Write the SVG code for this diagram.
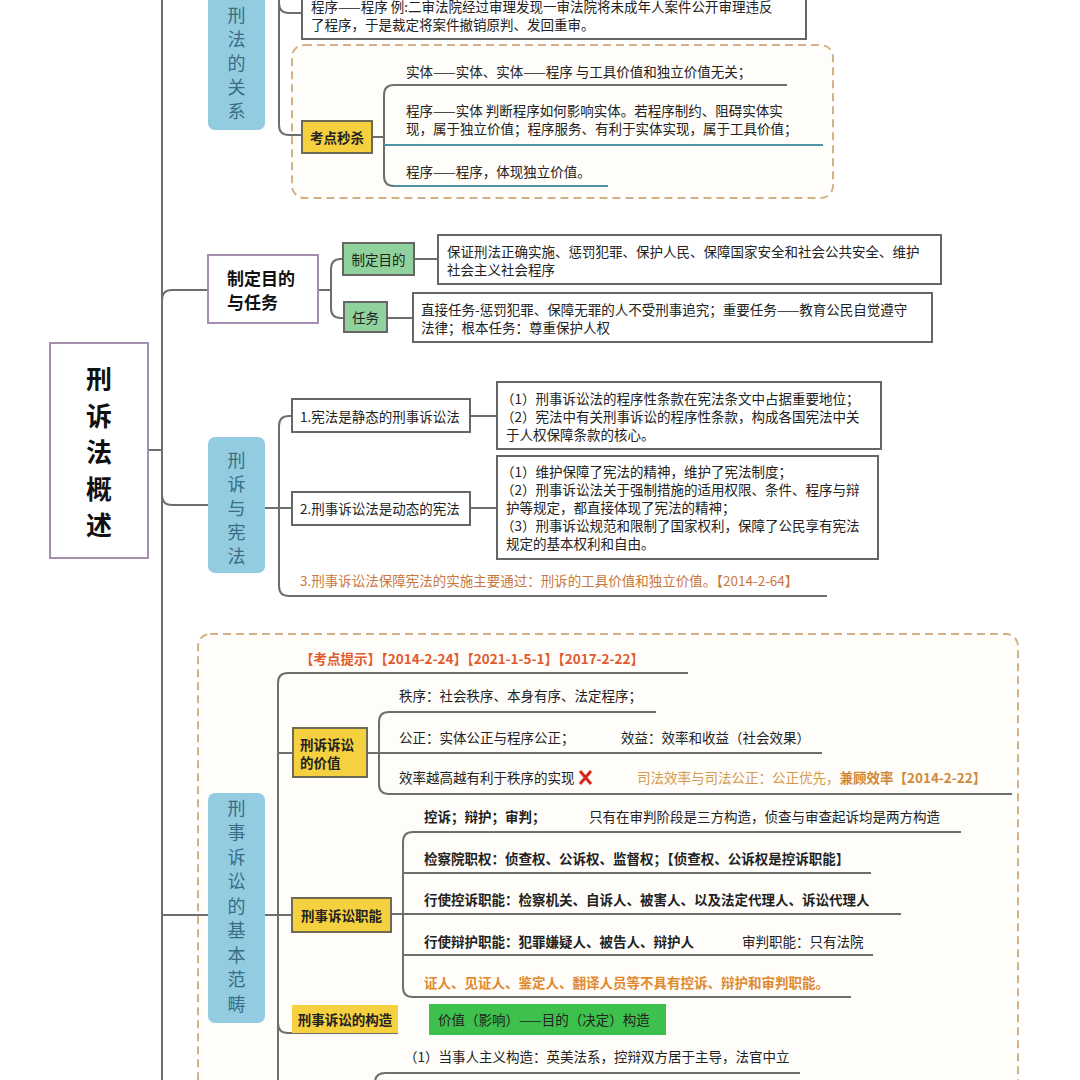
<svg xmlns="http://www.w3.org/2000/svg" width="1080" height="1080" viewBox="0 0 1080 1080">
<style>
.ln{fill:none;stroke:#6e6e6e;stroke-width:2}
.lnb{fill:none;stroke:#4e93a8;stroke-width:2}
.box{fill:#fff;stroke:#666;stroke-width:2}
.pbox{fill:#fff;stroke:#a48fae;stroke-width:2}
.blue{fill:#93cce1}
.yel{fill:#f6d13f;stroke:#6f6a55;stroke-width:2}
.grn{fill:#8fd29d;stroke:#666;stroke-width:2}
.dash{fill:#fffdf9;stroke:#d4b088;stroke-width:2;stroke-dasharray:8 5}
text{font-family:"Noto Sans CJK SC","Noto Sans",sans-serif;dominant-baseline:central}
.t{font-size:13.5px;fill:#222}
.b{font-weight:bold}
.bt{font-size:18px;fill:#3a6c84;text-anchor:middle}
.or{fill:#c9783f}
.rd{fill:#e05a30}
.tan{fill:#d49a4c}
.og{fill:#e0892e}
</style>

<g id="frames">
  <rect class="dash" x="292" y="45" width="541" height="153" rx="12"/>
  <rect class="dash" x="198" y="634" width="820" height="470" rx="12"/>
</g>

<g id="connectors">
  <line class="ln" x1="162" y1="0" x2="162" y2="1080"/>
  <line class="ln" x1="148" y1="450" x2="162" y2="450"/>
  <path class="ln" d="M279,-5 V3 Q279,13 289,13 H302"/>
  <path class="ln" d="M279,0 V125 Q279,135 289,135 H302"/>
  <line class="ln" x1="372" y1="137" x2="384" y2="137"/>
  <path class="ln" d="M787,85 H394 Q384,85 384,95 V176 Q384,186 394,186"/>
  <line class="lnb" x1="384" y1="145" x2="823" y2="145"/>
  <line class="lnb" x1="394" y1="186" x2="608" y2="186"/>
  <path class="ln" d="M162,300 Q162,290 172,290 H208"/>
  <path class="ln" d="M318,290 H331"/>
  <path class="ln" d="M343,259 H341 Q331,259 331,269 V308 Q331,318 341,318 H344"/>
  <line class="ln" x1="414" y1="259" x2="438" y2="259"/>
  <line class="ln" x1="387" y1="318" x2="413" y2="318"/>
  <path class="ln" d="M162,495 Q162,505 172,505 H208"/>
  <line class="ln" x1="265" y1="508" x2="292" y2="508"/>
  <path class="ln" d="M292,416 H289 Q279,416 279,426 V586 Q279,596 289,596 H827"/>
  <line class="ln" x1="470" y1="416" x2="497" y2="416"/>
  <line class="ln" x1="470" y1="508" x2="497" y2="508"/>
  <line class="ln" x1="162" y1="915" x2="208" y2="915"/>
  <line class="ln" x1="265" y1="915" x2="292" y2="915"/>
  <path class="ln" d="M688,673 H288 Q278,673 278,683 V1080"/>
  <line class="ln" x1="278" y1="753" x2="293" y2="753"/>
  <path class="ln" d="M278,1023 Q278,1033 288,1033 H398"/>
  <path class="ln" d="M656,712 H389 Q379,712 379,722 V784 Q379,794 389,794 H1012"/>
  <line class="ln" x1="367" y1="753" x2="822" y2="753"/>
  <path class="ln" d="M961,832 H413 Q403,832 403,842 V987 Q403,997 413,997 H851"/>
  <line class="ln" x1="403" y1="873" x2="871" y2="873"/>
  <line class="ln" x1="391" y1="914" x2="901" y2="914"/>
  <line class="ln" x1="403" y1="955" x2="873" y2="955"/>
  <path class="ln" d="M800,1073 H385 Q375,1073 375,1083"/>
</g>

<g id="root">
  <rect class="pbox" x="50" y="343" width="98" height="215"/>
  <g font-size="26" font-weight="bold" text-anchor="middle" fill="#111">
    <text x="99" y="377">刑</text><text x="99" y="414">诉</text><text x="99" y="450">法</text><text x="99" y="487">概</text><text x="99" y="523">述</text>
  </g>
</g>

<g id="n-xingfa">
  <rect class="blue" x="208" y="-12" width="57" height="142" rx="7"/>
  <text class="bt" x="236.5" y="14">刑</text><text class="bt" x="236.5" y="38">法</text><text class="bt" x="236.5" y="62">的</text><text class="bt" x="236.5" y="86">关</text><text class="bt" x="236.5" y="110">系</text>
</g>
<g id="n-example">
  <rect class="box" x="302" y="-6" width="504" height="45"/>
  <text class="t" x="311" y="6">程序——程序 例:二审法院经过审理发现一审法院将未成年人案件公开审理违反</text>
  <text class="t" x="311" y="24">了程序，于是裁定将案件撤销原判、发回重审。</text>
</g>
<g id="n-kaodian">
  <rect class="yel" x="302" y="121" width="70" height="32"/>
  <text class="t b" x="337" y="137" text-anchor="middle">考点秒杀</text>
  <text class="t" x="406" y="71">实体——实体、实体——程序 与工具价值和独立价值无关；</text>
  <text class="t" x="406" y="110">程序——实体 判断程序如何影响实体。若程序制约、阻碍实体实</text>
  <text class="t" x="406" y="128">现，属于独立价值；程序服务、有利于实体实现，属于工具价值；</text>
  <text class="t" x="406" y="171">程序——程序，体现独立价值。</text>
</g>

<g id="n-mudi">
  <rect class="pbox" x="208" y="255" width="110" height="68"/>
  <text x="227" y="277" font-size="17" font-weight="bold" fill="#111">制定目的</text>
  <text x="227" y="301" font-size="17" font-weight="bold" fill="#111">与任务</text>
</g>
<g id="n-mudi1">
  <rect class="grn" x="343" y="243" width="71" height="32"/>
  <text class="t" x="378.5" y="259" text-anchor="middle">制定目的</text>
  <rect class="box" x="438" y="235" width="503" height="49"/>
  <text class="t" x="447" y="251">保证刑法正确实施、惩罚犯罪、保护人民、保障国家安全和社会公共安全、维护</text>
  <text class="t" x="447" y="269">社会主义社会程序</text>
</g>
<g id="n-renwu">
  <rect class="grn" x="344" y="302" width="43" height="30"/>
  <text class="t" x="365.5" y="317" text-anchor="middle">任务</text>
  <rect class="box" x="413" y="293" width="519" height="49"/>
  <text class="t" x="421" y="309">直接任务-惩罚犯罪、保障无罪的人不受刑事追究；重要任务——教育公民自觉遵守</text>
  <text class="t" x="421" y="327">法律；根本任务：尊重保护人权</text>
</g>

<g id="n-xianfa">
  <rect class="blue" x="208" y="437" width="57" height="136" rx="7"/>
  <text class="bt" x="236.5" y="459">刑</text><text class="bt" x="236.5" y="483">诉</text><text class="bt" x="236.5" y="507">与</text><text class="bt" x="236.5" y="531">宪</text><text class="bt" x="236.5" y="555">法</text>
</g>
<g id="n-xf1">
  <rect class="box" x="292" y="399" width="178" height="33"/>
  <text class="t" x="300" y="416">1.宪法是静态的刑事诉讼法</text>
  <rect class="box" x="497" y="382" width="384" height="67"/>
  <text class="t" x="501" y="398">（1）刑事诉讼法的程序性条款在宪法条文中占据重要地位；</text>
  <text class="t" x="501" y="416">（2）宪法中有关刑事诉讼的程序性条款，构成各国宪法中关</text>
  <text class="t" x="506" y="434">于人权保障条款的核心。</text>
</g>
<g id="n-xf2">
  <rect class="box" x="292" y="492" width="178" height="33"/>
  <text class="t" x="300" y="508">2.刑事诉讼法是动态的宪法</text>
  <rect class="box" x="497" y="456" width="381" height="103"/>
  <text class="t" x="501" y="471">（1）维护保障了宪法的精神，维护了宪法制度；</text>
  <text class="t" x="501" y="489">（2）刑事诉讼法关于强制措施的适用权限、条件、程序与辩</text>
  <text class="t" x="506" y="507">护等规定，都直接体现了宪法的精神；</text>
  <text class="t" x="501" y="525">（3）刑事诉讼规范和限制了国家权利，保障了公民享有宪法</text>
  <text class="t" x="506" y="543">规定的基本权利和自由。</text>
</g>
<g id="n-xf3">
  <text class="t or" x="300" y="580">3.刑事诉讼法保障宪法的实施主要通过：刑诉的工具价值和独立价值。【2014-2-64】</text>
</g>

<g id="n-fanchou">
  <rect class="blue" x="208" y="793" width="57" height="230" rx="7"/>
  <text class="bt" x="236.5" y="807">刑</text><text class="bt" x="236.5" y="831">事</text><text class="bt" x="236.5" y="856">诉</text><text class="bt" x="236.5" y="880">讼</text><text class="bt" x="236.5" y="905">的</text><text class="bt" x="236.5" y="929">基</text><text class="bt" x="236.5" y="954">本</text><text class="bt" x="236.5" y="978">范</text><text class="bt" x="236.5" y="1003">畴</text>
</g>
<g id="n-tishi">
  <text class="t b rd" x="300" y="658" font-size="14">【考点提示】【2014-2-24】【2021-1-5-1】【2017-2-22】</text>
</g>
<g id="n-jiazhi">
  <rect class="yel" x="293" y="728" width="74" height="49"/>
  <text class="t b" x="300" y="744">刑诉诉讼</text>
  <text class="t b" x="300" y="762">的价值</text>
  <text class="t" x="399" y="695">秩序：社会秩序、本身有序、法定程序；</text>
  <text class="t" x="399" y="737">公正：实体公正与程序公正；</text>
  <text class="t" x="621" y="737">效益：效率和收益（社会效果）</text>
  <text class="t" x="399" y="777">效率越高越有利于秩序的实现</text>
  <path d="M580,771 L591,784 M591,771 L580,784" stroke="#d8281e" stroke-width="3" fill="none"/>
  <text class="t tan" x="637" y="777">司法效率与司法公正：公正优先，<tspan font-weight="bold" fill="#d0893a">兼顾效率【2014-2-22】</tspan></text>
</g>
<g id="n-zhineng">
  <rect class="yel" x="292" y="898" width="99" height="34"/>
  <text class="t b" x="341.5" y="915" text-anchor="middle">刑事诉讼职能</text>
  <text class="t b" x="424" y="816">控诉；辩护；审判；</text>
  <text class="t" x="589" y="816">只有在审判阶段是三方构造，侦查与审查起诉均是两方构造</text>
  <text class="t b" x="424" y="858">检察院职权：侦查权、公诉权、监督权；【侦查权、公诉权是控诉职能】</text>
  <text class="t b" x="424" y="899">行使控诉职能：检察机关、自诉人、被害人、以及法定代理人、诉讼代理人</text>
  <text class="t b" x="424" y="941">行使辩护职能：犯罪嫌疑人、被告人、辩护人</text>
  <text class="t" x="742" y="941">审判职能：只有法院</text>
  <text class="t b og" x="424" y="982">证人、见证人、鉴定人、翻译人员等不具有控诉、辩护和审判职能。</text>
</g>
<g id="n-gouzao">
  <rect x="292" y="1005" width="106" height="28" fill="#f6d13f"/>
  <text class="t b" x="345" y="1019" text-anchor="middle">刑事诉讼的构造</text>
  <rect x="429" y="1004" width="237" height="31" fill="#3ec04c"/>
  <text class="t" x="438" y="1019" fill="#1c2e1c">价值（影响）——目的（决定）构造</text>
  <text class="t" x="404" y="1056">（1）当事人主义构造：英美法系，控辩双方居于主导，法官中立</text>
</g>
</svg>
